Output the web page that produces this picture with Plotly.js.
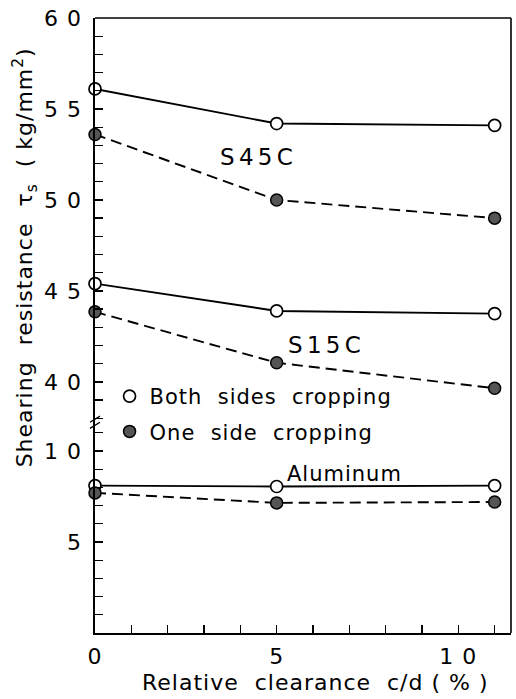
<!DOCTYPE html>
<html>
<head>
<meta charset="utf-8">
<script src="https://cdn.plot.ly/plotly-3.0.1.min.js"></script>
<style>
html,body{margin:0;padding:0;background:#fff;}
#chart{width:516px;height:699px;}
svg text{letter-spacing:1px;}
</style>
</head>
<body>
<div id="chart"></div>
<script>
// Relative clearance c/d (%)
const clearance = [0, 5, 11];
// Shearing resistance (kg/mm^2)
const s45cBoth = [56.1, 54.2, 54.1];
const s45cOne  = [53.6, 50.0, 49.0];
const s15cBoth = [45.4, 43.9, 43.75];
const s15cOne  = [43.85, 41.05, 39.65];
const aluBoth  = [8.1, 8.05, 8.1];
const aluOne   = [7.7, 7.15, 7.2];

const seriesLabels = ["Both\u00a0\u00a0sides\u00a0\u00a0cropping", "One\u00a0\u00a0side\u00a0\u00a0cropping"];
const materialLabels = ["S\u200a4\u200a5\u200aC", "S\u200a1\u200a5\u200aC", "Aluminum"];

const xTickVals = [0, 5, 10];
const xTickText = ["0", "5", "1 0"];
const yUpperTickVals = [40, 45, 50, 55, 60];
const yUpperTickText = ["4 0", "4 5", "5 0", "5 5", "6 0"];
const yLowerTickVals = [5, 10];
const yLowerTickText = ["5", "1 0"];

const FONT = "DejaVu Sans, sans-serif";
const openMarker = {symbol: "circle", size: 12, color: "#ffffff", line: {color: "#000", width: 1.7}};
const filledMarker = {symbol: "circle", size: 12, color: "#555555", line: {color: "#000", width: 1.5}};
const solidLine = {color: "#000", width: 1.9};
const dashLine = {color: "#000", width: 1.9, dash: "11px,6px"};

function tr(y, yaxis, marker, line) {
  return {x: clearance, y: y, yaxis: yaxis, mode: "lines+markers", marker: marker, line: line,
          showlegend: false, cliponaxis: false, hoverinfo: "x+y"};
}

const data = [
  tr(s45cBoth, "y2", openMarker, solidLine),
  tr(s45cOne, "y2", filledMarker, dashLine),
  tr(s15cBoth, "y2", openMarker, solidLine),
  tr(s15cOne, "y2", filledMarker, dashLine),
  tr(aluBoth, "y", openMarker, solidLine),
  tr(aluOne, "y", filledMarker, dashLine),
  {x: [null], y: [null], mode: "markers", marker: openMarker, name: seriesLabels[0], legendgroup: "a", showlegend: true},
  {x: [null], y: [null], mode: "markers", marker: filledMarker, name: seriesLabels[1], legendgroup: "b", showlegend: true}
];

const split = 212 / 615;
const axisCommon = {
  showgrid: false, zeroline: false, showline: true, linecolor: "#000", linewidth: 1.6,
  ticks: "inside", ticklen: 8, tickwidth: 1.5, tickcolor: "#000",
  tickfont: {family: FONT, size: 22, color: "#000"},
  minor: {dtick: 1, ticks: "inside", ticklen: 8, tickwidth: 1.3, tickcolor: "#000", showgrid: false}
};

const layout = {
  width: 516, height: 699,
  margin: {l: 95, r: 5, t: 18, b: 66},
  paper_bgcolor: "#fff", plot_bgcolor: "#fff",
  font: {family: FONT, color: "#000", size: 21},
  xaxis: Object.assign({}, axisCommon, {
    range: [0, 11.45], tickmode: "array", tickvals: xTickVals, ticktext: xTickText,
    anchor: "y", ticklabelstandoff: 3
  }),
  yaxis: Object.assign({}, axisCommon, {
    domain: [0, split], range: [0, 11.65], tickmode: "array",
    tickvals: yLowerTickVals, ticktext: yLowerTickText, ticklabelstandoff: 7
  }),
  yaxis2: Object.assign({}, axisCommon, {
    domain: [split, 1], range: [37.85, 60], tickmode: "array",
    tickvals: yUpperTickVals, ticktext: yUpperTickText, ticklabelstandoff: 7, anchor: "x"
  }),
  showlegend: true,
  legend: {x: 0.035, y: 0.418, xanchor: "left", yanchor: "top", bgcolor: "rgba(0,0,0,0)",
           font: {family: FONT, size: 21, color: "#000"}, tracegroupgap: 5, itemwidth: 30},
  annotations: [
    {text: materialLabels[0], x: 4.45, y: 52.36, xref: "x", yref: "y2", showarrow: false, font: {size: 23}},
    {text: materialLabels[1], x: 6.34, y: 42.03, xref: "x", yref: "y2", showarrow: false, font: {size: 23}},
    {text: materialLabels[2], x: 6.86, y: 8.75, xref: "x", yref: "y", showarrow: false, font: {size: 21}},
    {text: "Shearing\u00a0\u00a0resistance\u00a0\u00a0\u03c4<sub>s</sub>\u00a0\u00a0(\u00a0kg/mm<sup>2</sup>)",
     xref: "paper", yref: "paper", x: -0.168, y: 0.611, xanchor: "center", yanchor: "middle",
     textangle: -90, showarrow: false, font: {size: 22}},
    {text: "Relative\u00a0\u00a0clearance\u00a0\u00a0c/d\u00a0(\u00a0%\u00a0)", xref: "paper", yref: "paper",
     x: 0.529, y: -0.081, xanchor: "center", yanchor: "middle", showarrow: false, font: {size: 22}}
  ],
  shapes: [
    {type: "line", xref: "paper", yref: "paper", x0: 0, x1: 1, y0: 1, y1: 1, line: {color: "#000", width: 1.6}},
    {type: "line", xref: "paper", yref: "paper", x0: 1, x1: 1, y0: 0, y1: 1, line: {color: "#000", width: 1.6}},
    {type: "line", xref: "paper", yref: "paper", x0: -0.012, x1: 0.012, y0: split - 0.002, y1: split + 0.008, line: {color: "#000", width: 1.3}},
    {type: "line", xref: "paper", yref: "paper", x0: -0.012, x1: 0.012, y0: split - 0.012, y1: split - 0.002, line: {color: "#000", width: 1.3}}
  ]
};

Plotly.newPlot("chart", data, layout, {displayModeBar: false, staticPlot: true});
</script>
</body>
</html>
